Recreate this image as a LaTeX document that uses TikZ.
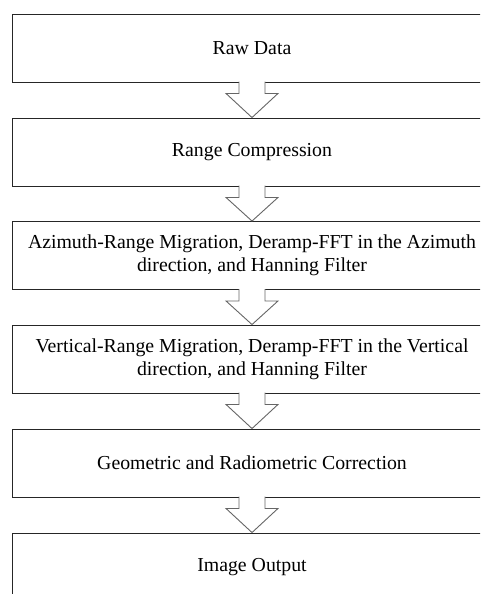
\documentclass[tikz,border=0pt]{standalone}
\usepackage{fontspec}
\setmainfont{Liberation Serif}
\usetikzlibrary{calc}
\begin{document}
\begin{tikzpicture}[x=1pt,y=1pt,
  stepbox/.style={draw=black!85, line width=0.9pt, rectangle, minimum width=480pt, minimum height=68pt,
    inner sep=0pt, align=center, font=\fontsize{19.8}{23}\selectfont},
  arr/.style={draw=black!60, line width=0.9pt, fill=white, line join=miter}]
\useasboundingbox (0,0) rectangle (480,-594);
\clip (0,0) rectangle (480,-594);
\fill[white] (0,0) rectangle (480,-594);
\node[stepbox] (b1) at (252,-48) {Raw Data};
\node[stepbox] (b2) at (252,-152) {Range Compression};
\node[stepbox] (b3) at (252,-255.5) {\makebox[448pt][s]{Azimuth-Range Migration, Deramp-FFT in the Azimuth}\\direction, and Hanning Filter};
\node[stepbox] (b4) at (252,-359) {\makebox[433pt][s]{Vertical-Range Migration, Deramp-FFT in the Vertical}\\direction, and Hanning Filter};
\node[stepbox] (b5) at (252,-463) {Geometric and Radiometric Correction};
\node[stepbox] (b6) at (252,-567) {Image Output};
\foreach \a/\b in {b1/b2,b2/b3,b3/b4,b4/b5,b5/b6}{
  \draw[arr] ($(\a.south)+(-13,0.8)$) -- ($(\a.south)+(-13,-11)$) -- ($(\a.south)+(-26,-11)$)
    -- (\b.north) -- ($(\a.south)+(26,-11)$) -- ($(\a.south)+(13,-11)$) -- ($(\a.south)+(13,0.8)$);
}
\end{tikzpicture}
\end{document}
